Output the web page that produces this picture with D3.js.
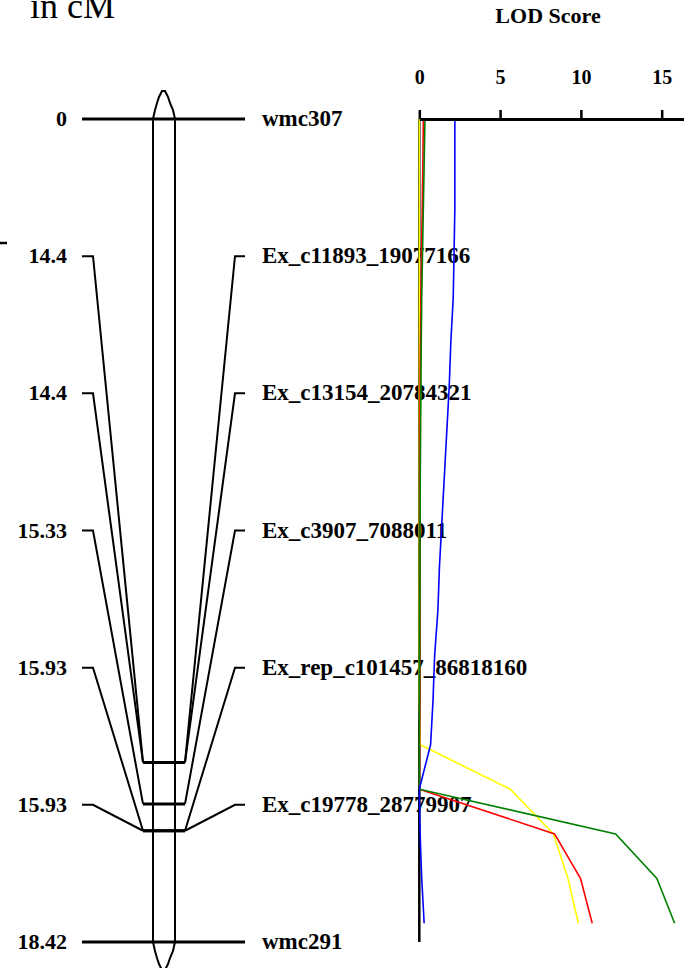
<!DOCTYPE html>
<html>
<head>
<meta charset="utf-8">
<script src="https://cdn.jsdelivr.net/npm/d3@7"></script>
<style>
    body { margin: 0; background: #fff; }
    svg { display: block; }
    text { font-family: "Liberation Serif", "Times New Roman", serif; }
</style>
</head>
<body>
<div id="chart"></div>
<script>
// marker names and map positions (cM)
let markers = ["wmc307", "Ex_c11893_19077166", "Ex_c13154_20784321", "Ex_c3907_7088011",
    "Ex_rep_c101457_86818160", "Ex_c19778_28779907", "wmc291"];
let positions = [0, 14.4, 14.4, 15.33, 15.93, 15.93, 18.42];
let posLabels = ["0", "14.4", "14.4", "15.33", "15.93", "15.93", "18.42"];

// LOD scan, one point per cM
let scanPos = [0, 1, 2, 3, 4, 5, 6, 7, 8, 9, 10, 11, 12, 13, 14, 15, 16, 17, 18];
let lodYellow = [0, 0, 0, 0, 0, 0, 0, 0, 0, 0, 0, 0, 0, 0, 0.05, 5.63, 8.3, 9.2, 9.84];
let lodRed = [0.25, 0.22, 0.18, 0.14, 0.1, 0.07, 0.05, 0.04, 0.04, 0.04, 0.03, 0.03, 0.03, 0.03, 0.02, 0, 8.37, 9.98, 10.7];
let lodGreen = [0.35, 0.3, 0.25, 0.2, 0.15, 0.12, 0.1, 0.08, 0.06, 0.05, 0.04, 0.03, 0.02, 0.01, 0, 0, 12.15, 14.7, 15.8];
let lodBlue = [2.2, 2.2, 2.2, 2.15, 2.1, 1.95, 1.85, 1.7, 1.55, 1.4, 1.25, 1.15, 0.95, 0.85, 0.7, 0, 0.05, 0.15, 0.3];
let lodTicks = [0, 5, 10, 15];

let width = 684, height = 968;

let svg = d3.select('#chart').append('svg')
    .attr('width', width)
    .attr('height', height);

// scales
let yMap = d3.scaleLinear().domain([0, 18.42]).range([119, 942]);
let yLabel = d3.scalePoint().domain(markers).range([119, 942]);
let xLod = d3.scaleLinear().domain([0, 16.38]).range([419.3, 684]);

// title pieces (cut by the top edge, as in the source figure)
svg.append('text')
    .attr('x', 30).attr('y', 18)
    .attr('font-size', 36)
    .text('in cM');

svg.append('line')
    .attr('x1', 0).attr('x2', 7)
    .attr('y1', 243).attr('y2', 243)
    .attr('stroke', '#000').attr('stroke-width', 2.5);

// chromosome bar
let chrom = svg.append('g').attr('id', 'chrom');
chrom.append('rect')
    .attr('x', 153).attr('y', yMap(0))
    .attr('width', 22).attr('height', yMap(18.42) - yMap(0))
    .attr('fill', 'none').attr('stroke', '#000').attr('stroke-width', 2);

// tips of the chromosome
let capTop = [[153, 0], [155, -9], [157, -16], [159, -22], [162, -28], [165, -28], [168, -22], [170, -16], [173, -9], [175, 0]];
let capLine = d3.line();
chrom.append('path')
    .attr('d', capLine(capTop.map(p => [p[0], yMap(0) + p[1]])))
    .attr('fill', 'none').attr('stroke', '#000').attr('stroke-width', 2);
chrom.append('path')
    .attr('d', capLine(capTop.map(p => [p[0], yMap(18.42) - p[1]])))
    .attr('fill', 'none').attr('stroke', '#000').attr('stroke-width', 2);

// marker connectors
let mk = svg.append('g').attr('id', 'markers');
markers.forEach((m, i) => {
    let ly = yLabel(m), my = yMap(positions[i]);
    if (i === 0 || i === markers.length - 1) {
        mk.append('line')
            .attr('x1', 82).attr('x2', 245)
            .attr('y1', ly).attr('y2', ly)
            .attr('stroke', '#000').attr('stroke-width', 3);
    } else {
        mk.append('path')
            .attr('d', d3.line()([[82, ly], [93, ly], [143, my]]))
            .attr('fill', 'none').attr('stroke', '#000').attr('stroke-width', 2);
        mk.append('path')
            .attr('d', d3.line()([[245, ly], [235, ly], [185, my]]))
            .attr('fill', 'none').attr('stroke', '#000').attr('stroke-width', 2);
        mk.append('line')
            .attr('x1', 143).attr('x2', 185)
            .attr('y1', my).attr('y2', my)
            .attr('stroke', '#000').attr('stroke-width', 3);
    }
    mk.append('text')
        .attr('x', 67).attr('y', ly + 7)
        .attr('text-anchor', 'end')
        .attr('font-size', 22).attr('font-weight', 'bold')
        .text(posLabels[i]);
    mk.append('text')
        .attr('x', 262).attr('y', ly + 7)
        .attr('font-size', 23).attr('font-weight', 'bold')
        .text(m);
});

// LOD panel
let lod = svg.append('g').attr('id', 'lod');

let series = [
    { color: '#ffff00', v: lodYellow },
    { color: '#ff0000', v: lodRed },
    { color: '#008000', v: lodGreen },
    { color: '#0000ff', v: lodBlue }
];

let lodLine = d3.line()
    .x(d => xLod(d[1]))
    .y(d => yMap(d[0]));

// vertical base line at LOD 0
lod.append('line')
    .attr('x1', xLod(0)).attr('x2', xLod(0))
    .attr('y1', yMap(0)).attr('y2', yMap(18.42))
    .attr('stroke', '#000').attr('stroke-width', 2.5);

series.forEach(s => {
    lod.append('path')
        .datum(scanPos.map((p, i) => [p, s.v[i]]))
        .attr('d', lodLine)
        .attr('fill', 'none')
        .attr('stroke', s.color)
        .attr('stroke-width', 1.6);
});

let axis = lod.append('g')
    .attr('transform', `translate(0,${yMap(0)})`)
    .call(d3.axisTop(xLod).tickValues(lodTicks).tickSize(9).tickSizeOuter(0).tickPadding(26));
axis.select('.domain').attr('stroke-width', 3);
axis.selectAll('.tick line').attr('stroke-width', 2.5);
axis.selectAll('.tick text')
    .attr('font-family', '"Liberation Serif", serif')
    .attr('font-size', 20).attr('font-weight', 'bold')
    .attr('fill', '#000');

lod.append('text')
    .attr('x', 548).attr('y', 23)
    .attr('text-anchor', 'middle')
    .attr('font-size', 22).attr('font-weight', 'bold')
    .text('LOD Score');
</script>
</body>
</html>
